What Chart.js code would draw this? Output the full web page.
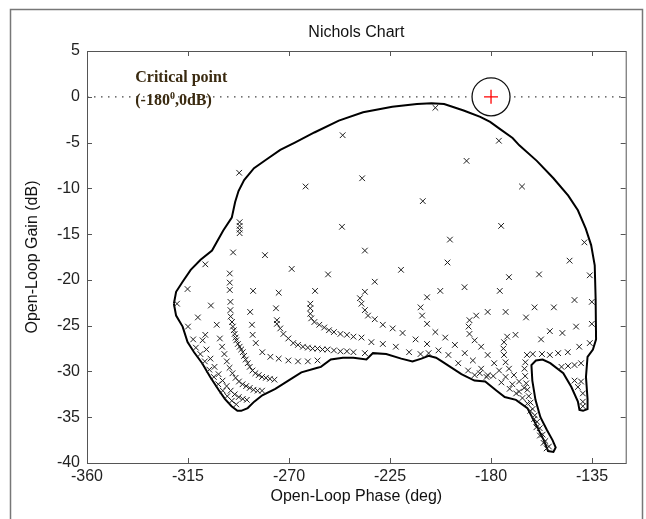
<!DOCTYPE html>
<html>
<head>
<meta charset="utf-8">
<script src="https://cdn.jsdelivr.net/npm/chart.js@4.4.1/dist/chart.umd.min.js"></script>
<style>
  html, body { margin: 0; padding: 0; background: #fff; }
</style>
</head>
<body>
<canvas id="nichols" width="646" height="519"></canvas>
<script>
// Nichols chart: closed boundary of the response set + sampled points

const xTicks = [-360, -315, -270, -225, -180, -135];
const yTicks = [5, 0, -5, -10, -15, -20, -25, -30, -35, -40];
const criticalPoint = [-180, 0];

// outer contour (phase deg, gain dB), traced clockwise from the left tip
const boundary = [
  [-321.3,-22.6],[-320.3,-21.3],[-317.4,-20.2],[-313.8,-18.9],[-309.4,-17.8],[-304.3,-16.8],
  [-299.3,-14.6],[-295.5,-13.2],[-294,-11.5],[-292.5,-10.3],[-290,-9.1],[-285.6,-7.8],
  [-280.4,-6.9],[-273.9,-5.8],[-267.4,-5.0],[-258.7,-3.9],[-247.8,-2.6],[-237,-1.7],
  [-224,-1.1],[-213,-0.8],[-206.5,-0.7],[-200.9,-0.8],[-192.2,-1.5],[-184.8,-2.2],
  [-180.4,-2.75],[-176.1,-3.5],[-170.4,-4.5],[-167.4,-5.3],[-159.6,-7],[-152.2,-8.9],
  [-145.6,-10.8],[-141.3,-12.4],[-137.8,-14.4],[-135.4,-16.2],[-133.8,-18.4],[-133.4,-22],
  [-133.2,-26.5],[-134.6,-27.6],[-137,-28.4],[-137.7,-30.6],[-137,-33],[-137,-34.1],
  [-139,-34.3],[-140.6,-34.2],[-141.3,-33.3],[-144.2,-31.7],[-147.8,-30.2],[-153.6,-29.1],
  [-157,-28.7],[-160,-28.8],[-162,-29.3],[-161.6,-31],[-160.2,-33.1],[-158,-35],
  [-155.1,-36.4],[-152.6,-37.5],[-151.2,-38.3],[-152.2,-38.8],[-154.6,-38.7],[-156.5,-37.5],
  [-160.2,-35.7],[-163.8,-34],[-168.9,-33.1],[-173.9,-32.8],[-177.5,-32.1],[-182.6,-31.1],
  [-187.4,-31],[-193.2,-30.3],[-201.9,-28.9],[-204.5,-28.5],[-207.8,-28.3],[-211,-28.6],
  [-215,-28.9],[-220,-28.6],[-226.7,-28.1],[-232.6,-28],[-235.5,-28.7],[-241.3,-28.5],
  [-246,-28.5],[-251.4,-28.7],[-255.8,-29.5],[-257.3,-29.6],[-264.5,-30.1],[-270.3,-31],
  [-276.1,-31.9],[-281.9,-32.6],[-285.5,-33.3],[-288.4,-34],[-291.3,-34.3],[-293,-34.3],
  [-295.6,-33.8],[-298.6,-33],[-301.4,-32],[-305.1,-30.6],[-308.7,-29.1],[-312.3,-27.9],
  [-315.2,-26.8],[-317.4,-25.1],[-320.3,-23.9],[-321.3,-22.6]
];

// sparse samples in the upper part
const pointsUpper = [
  [-204.8,-1.2],[-246.1,-4.2],[-176.5,-4.8],[-292.2,-8.3],[-262.6,-9.8],[-237.4,-8.9],
  [-190.9,-7.0],[-166.2,-9.8],[-210.4,-11.4],[-175.5,-14.1],[-198.3,-15.6],[-236.2,-16.8],
  [-199.4,-18.1],[-220.1,-18.9],[-138.4,-15.9],[-145,-17.9],[-172,-19.7],[-158.6,-19.4],
  [-136,-19.5],[-246.4,-14.2],[-294.9,-17],[-280.7,-17.3],[-307.3,-18.3],[-268.8,-18.8],
  [-252.6,-19.4],[-292,-13.7],[-292,-14.1],[-292,-14.5],[-292,-14.9]
];

// samples in the middle / right part
const pointsMid = [
  [-231.8,-20.2],[-236.2,-21.3],[-202.6,-21.2],[-191.8,-20.8],[-176.1,-21.2],[-142.8,-22.2],
  [-135.1,-22.4],[-208.5,-21.9],[-152,-23],[-160.6,-23],[-173.5,-23.5],[-181.5,-23.5],
  [-164.4,-24.1],[-142.1,-25.1],[-135.1,-24.8],[-153.8,-25.6],[-148.2,-25.8],[-157.7,-26.5],
  [-140.7,-27.3],[-136,-26.9],[-145.8,-27.9],[-150.1,-28],[-153.8,-28.2],[-157.3,-28.1],
  [-161.4,-28.1],
  [-238.4,-22],[-237.7,-22.6],[-236.2,-23.3],[-234.8,-23.9],[-231.8,-24.3],[-228.2,-24.9],
  [-223.8,-25.3],[-219.4,-25.8],[-213.6,-26.5],[-208.5,-27],[-203.4,-27.7],
  [-241.3,-26.2],[-237.7,-26.3],[-233.3,-26.8],[-228.2,-27],[-222.4,-27.3],[-216.5,-27.9],
  [-211.4,-28.1],[-207.8,-28.0],[-241.3,-27.9],[-236.2,-28.0],
  [-211.4,-23],[-210.7,-23.9],[-208.5,-24.8],[-204.8,-25.7],[-200.4,-26.3],[-196.1,-27.1],
  [-191.7,-28],[-188.1,-28.8],[-184.4,-29.7],[-181.5,-30.4],
  [-199,-28.2],[-194.6,-29.1],[-190.2,-29.9],[-187.3,-30.4]
];

// samples in the two lower-right lobes
const pointsLobes = [
  [-186.6,-23.9],[-189.6,-24.4],[-190,-25.1],[-189.6,-25.9],[-187.3,-26.6],[-184.4,-27.3],
  [-181.5,-28.2],[-178.6,-29.1],[-176.4,-29.9],[-173.5,-30.6],[-170.5,-31.4],[-167.5,-32.2],
  [-169.1,-26],[-172.8,-26.2],[-174.2,-26.8],[-174.5,-27.5],[-174.2,-28.2],[-173.5,-29],
  [-172,-29.7],[-169.8,-30.4],[-167.5,-31.1],[-165.2,-31.8],
  [-164,-28.2],[-164.7,-29],[-165.1,-29.7],[-164.8,-30.5],[-164.3,-31.3],[-163.8,-32],
  [-163.2,-32.7],[-162.4,-33.4],[-161.5,-34.1],[-160.5,-34.8],[-159.5,-35.5],[-158.3,-36.2],
  [-157,-36.9],[-155.8,-37.6],[-154.2,-38.2],
  [-179,-30.5],[-175.4,-31.2],[-171.7,-31.9],[-168.8,-32.4],[-166,-32.9],[-163.8,-33.5],
  [-162.5,-34.3],[-160.8,-35.2],[-159.8,-36.1],[-158.2,-37],[-156.6,-37.8],[-155.2,-38.4],
  [-185,-30.2],[-182,-30.6],
  [-148.6,-29.5],[-145.7,-29.4],[-142.8,-29.3],[-139.9,-29.1],[-142.8,-31],[-139.9,-31.1],
  [-141.3,-31.7],[-139.1,-32.4],[-139.1,-33.3],[-139.1,-33.8]
];

// dense samples near the lower-left tip
const pointsLeft = [
  [-315.2,-21],[-319.9,-22.6],[-304.8,-22.8],[-310.6,-24.1],[-315,-25.1],[-302.2,-24.9],
  [-312.7,-26.5],[-307.3,-26],[-300.8,-26.4],
  [-258.4,-21.2],[-260.5,-22.6],[-260.5,-23.1],[-260.5,-23.7],[-260.1,-24.2],[-258.7,-24.6],
  [-256.5,-24.9],[-254.3,-25.2],[-252.2,-25.5],[-250,-25.7],[-247.1,-25.9],[-244.2,-26],
  [-274.6,-21.4],[-275.8,-23.1],[-275.4,-24.4],[-275.4,-24.8],[-273.9,-25.3],[-272.5,-25.9],
  [-270.3,-26.4],[-268.1,-26.9],[-266,-27.1],[-263.8,-27.3],[-261.6,-27.4],[-259.5,-27.5],
  [-257.3,-27.5],[-255.1,-27.6],[-252.9,-27.6],[-250,-27.7],[-247.1,-27.8],[-244.2,-27.8],
  [-286,-21.2],[-287.3,-23.5],[-286.5,-24.9],[-286.2,-26],[-284.8,-26.9],[-281.9,-27.9],
  [-278.3,-28.4],[-274.6,-28.6],[-270.3,-28.8],[-266,-28.9],[-261.6,-28.9],[-257.3,-28.8],
  [-296.4,-19.3],[-296.4,-20.3],[-296.4,-21.1],[-296.1,-22.4],[-296.1,-23.3],[-296,-24],
  [-295.4,-24.6],[-295,-25.1],[-294.6,-25.5],[-294.2,-25.9],[-293.8,-26.3],[-293.5,-26.6],
  [-292.8,-27],[-292,-27.3],[-291.3,-27.6],[-290.6,-27.9],[-290,-28.3],[-289.3,-28.7],
  [-288.4,-29.1],[-287.5,-29.5],[-286.3,-29.9],[-285,-30.2],[-283.5,-30.4],[-282,-30.6],
  [-280.3,-30.7],[-278.5,-30.8],[-276.5,-30.9],
  [-299.8,-27.3],[-298.8,-28.1],[-297.7,-28.9],[-296.5,-29.6],[-295.2,-30.2],[-293.8,-30.7],
  [-292.3,-31.1],[-290.7,-31.4],[-289.1,-31.6],[-287.5,-31.8],[-285.8,-32],[-284,-32.1],
  [-282,-32.1],
  [-308.5,-26.6],[-306.8,-27.6],[-305,-28.6],[-303.2,-29.5],[-301.4,-30.3],[-299.6,-31],
  [-297.8,-31.6],[-296,-32.1],[-294.2,-32.5],[-292.4,-32.8],[-290.6,-33],[-288.8,-33.1],
  [-311.5,-27.4],[-309.5,-28.1],[-307.5,-28.9],[-305.5,-29.8],[-303.5,-30.6],[-301.5,-31.4],
  [-299.5,-32.1],[-297.5,-32.7],[-295.5,-33.2],[-293.5,-33.6]
];

const FONT = '"Liberation Sans", Arial, sans-serif';
const toXY = arr => arr.map(p => ({ x: p[0], y: p[1] }));

const markerSet = (label, arr) => ({
  label, data: toXY(arr), showLine: false, order: 4,
  pointStyle: 'crossRot', pointRadius: 4, borderColor: '#1e1e1e', borderWidth: 1
});

// box, inward ticks, figure border and the critical point note
const framePlugin = {
  id: 'frame',
  afterDatasetsDraw(chart) {
    const { ctx, chartArea: a, scales: { x, y } } = chart;
    ctx.save();
    ctx.strokeStyle = '#555';
    ctx.lineWidth = 1;
    ctx.strokeRect(a.left + 0.5, a.top + 0.5, a.right - a.left, a.bottom - a.top);
    ctx.beginPath();
    xTicks.forEach(v => {
      const px = Math.round(x.getPixelForValue(v)) + 0.5;
      ctx.moveTo(px, a.bottom); ctx.lineTo(px, a.bottom - 5);
      ctx.moveTo(px, a.top); ctx.lineTo(px, a.top + 5);
    });
    yTicks.forEach(v => {
      const py = Math.round(y.getPixelForValue(v)) + 0.5;
      ctx.moveTo(a.left, py); ctx.lineTo(a.left + 5, py);
      ctx.moveTo(a.right, py); ctx.lineTo(a.right - 5, py);
    });
    ctx.stroke();

    ctx.strokeStyle = '#777';
    ctx.lineWidth = 1.5;
    ctx.strokeRect(10.5, 9.5, 632, 560);

    // note text next to the critical point
    const tx = x.getPixelForValue(-338.5);
    ctx.fillStyle = '#3a2a10';
    ctx.font = 'bold 16px "Liberation Serif", "Times New Roman", serif';
    ctx.textBaseline = 'alphabetic';
    ctx.fillText('Critical point', tx, y.getPixelForValue(1.6));
    const by = y.getPixelForValue(-0.9);
    let cx = tx;
    ctx.fillText('(-180', cx, by); cx += ctx.measureText('(-180').width;
    ctx.font = 'bold 10px "Liberation Serif", serif';
    ctx.fillText('0', cx, by - 6); cx += ctx.measureText('0').width;
    ctx.font = 'bold 16px "Liberation Serif", "Times New Roman", serif';
    ctx.fillText(',0dB)', cx, by);
    ctx.restore();
  }
};

new Chart(document.getElementById('nichols'), {
  type: 'scatter',
  data: {
    datasets: [
      { label: 'zero', type: 'line', data: toXY([[-360, 0], [-120, 0]]), order: 10,
        borderColor: '#444', borderWidth: 1.3, borderDash: [1.5, 5.5], pointRadius: 0 },
      { label: 'boundary', type: 'line', data: toXY(boundary), order: 6,
        borderColor: '#000', borderWidth: 2, pointRadius: 0, tension: 0, fill: false },
      markerSet('upper', pointsUpper),
      markerSet('mid', pointsMid),
      markerSet('lobes', pointsLobes),
      markerSet('left', pointsLeft),
      { label: 'circle', data: toXY([criticalPoint]), order: 2, pointStyle: 'circle', pointRadius: 19,
        borderColor: '#111', borderWidth: 1.3, backgroundColor: '#fff' },
      { label: 'critical', data: toXY([criticalPoint]), order: 1, pointStyle: 'cross', pointRadius: 7,
        borderColor: '#f00', borderWidth: 1.3 }
    ]
  },
  options: {
    responsive: false,
    animation: false,
    events: [],
    layout: { padding: { left: 0, right: 8, top: 0, bottom: 0 } },
    plugins: {
      legend: { display: false },
      tooltip: { enabled: false },
      title: {
        display: true, text: 'Nichols Chart', fullSize: false, color: '#111',
        font: { family: FONT, size: 16, weight: 'normal' },
        padding: { top: 23.4, bottom: 8.4 }
      }
    },
    scales: {
      x: {
        type: 'linear', min: -360, max: -120,
        afterBuildTicks: s => { s.ticks = xTicks.map(v => ({ value: v })); },
        afterFit: s => { s.height = 56; },
        grid: { display: false, drawTicks: false },
        border: { display: false },
        ticks: { color: '#222', font: { family: FONT, size: 16 }, padding: 4, maxRotation: 0, autoSkip: false },
        title: { display: true, text: 'Open-Loop Phase (deg)', color: '#111',
                 font: { family: FONT, size: 16 }, padding: { top: 0, bottom: 12.4 } }
      },
      y: {
        type: 'linear', min: -40, max: 5,
        afterBuildTicks: s => { s.ticks = yTicks.map(v => ({ value: v })); },
        afterFit: s => { s.width = 87; },
        grid: { display: false, drawTicks: false },
        border: { display: false },
        ticks: { color: '#222', font: { family: FONT, size: 16 }, padding: 7, autoSkip: false },
        title: { display: true, text: 'Open-Loop Gain (dB)', color: '#111',
                 font: { family: FONT, size: 16 }, padding: { top: 23.4, bottom: 0 } }
      }
    }
  },
  plugins: [framePlugin]
});
</script>
</body>
</html>
